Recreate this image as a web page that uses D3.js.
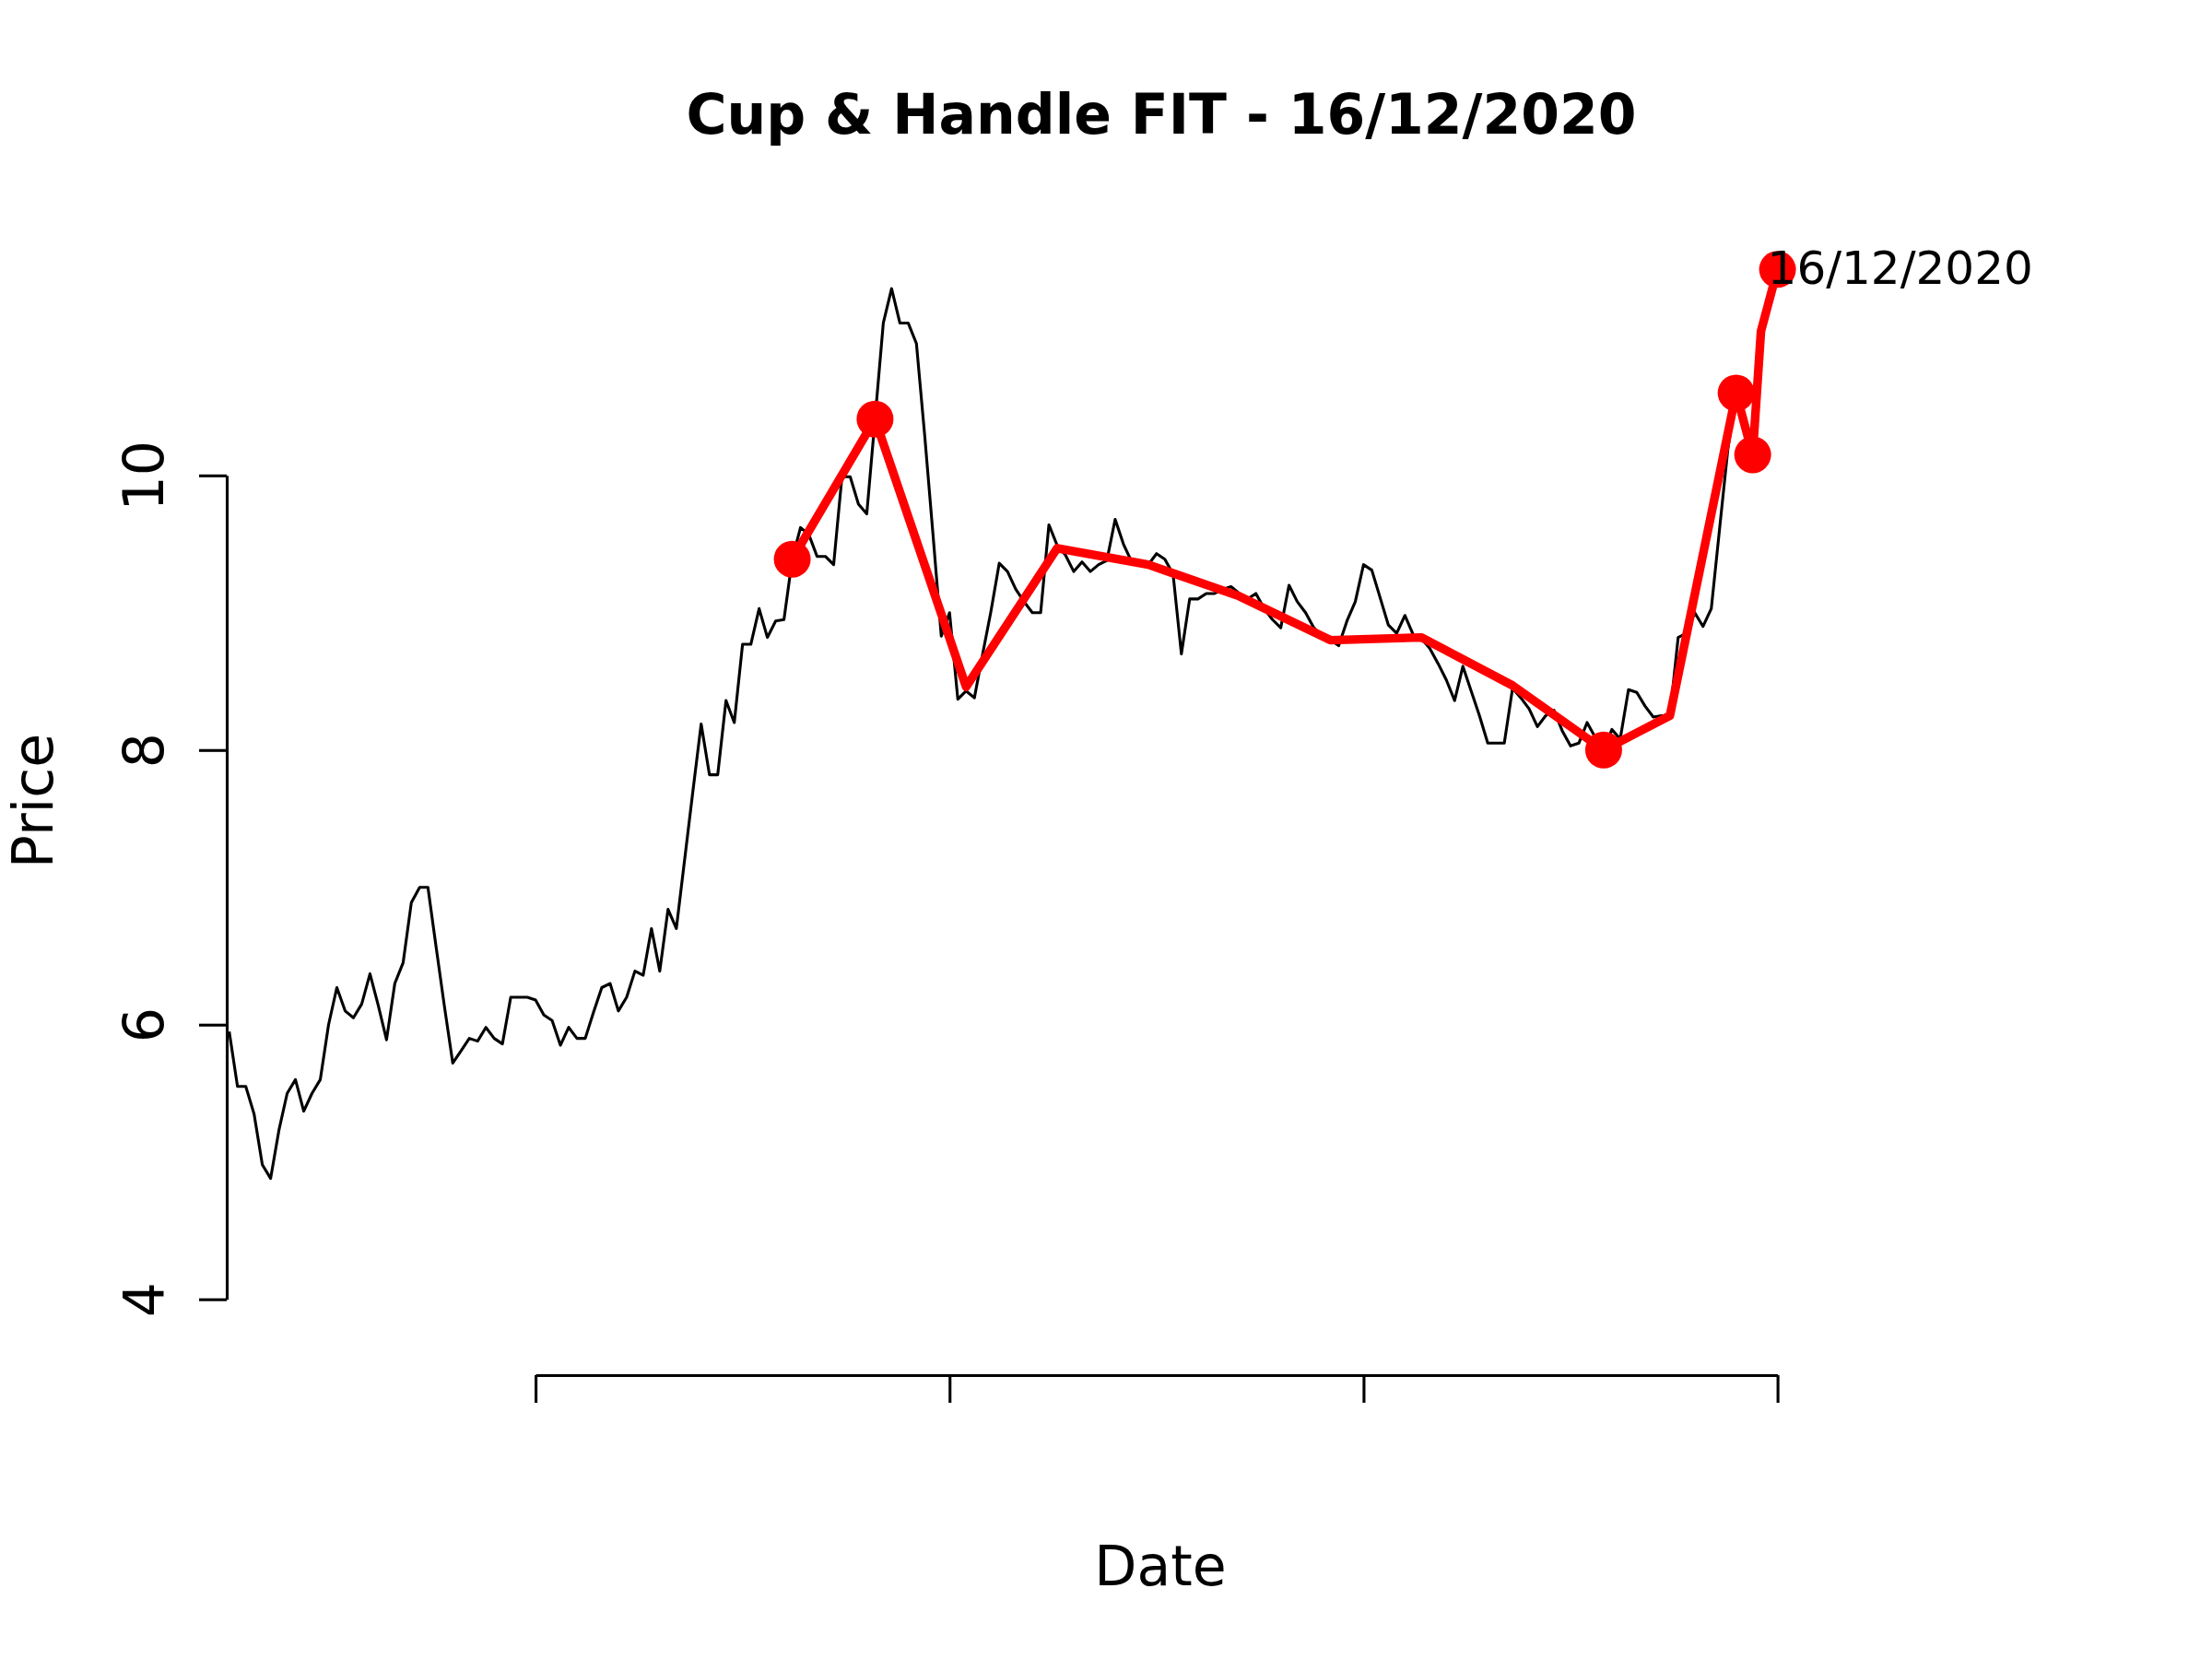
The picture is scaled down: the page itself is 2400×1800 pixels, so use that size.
<!DOCTYPE html>
<html>
<head>
<meta charset="utf-8">
<script src="https://cdn.jsdelivr.net/npm/d3@7/dist/d3.min.js"></script>
<style>
  body { margin: 0; background: #fff; }
</style>
</head>
<body>
<div id="chart"></div>
<script>
  // daily closing price, index 0 = first day on the chart
  const price = [
    5.95, 5.55, 5.55, 5.35, 4.98, 4.88, 5.23, 5.50, 5.60, 5.37,
    5.50, 5.60, 6.00, 6.27, 6.10, 6.05, 6.15, 6.37, 6.14, 5.89,
    6.30, 6.45, 6.89, 7.00, 7.00, 6.56, 6.13, 5.72, 5.81, 5.90,
    5.88, 5.98, 5.90, 5.86, 6.20, 6.20, 6.20, 6.18, 6.07, 6.03,
    5.85, 5.98, 5.90, 5.90, 6.09, 6.27, 6.30, 6.10, 6.20, 6.39,
    6.36, 6.70, 6.39, 6.84, 6.70, 7.20, 7.70, 8.19, 7.82, 7.82,
    8.36, 8.20, 8.77, 8.77, 9.03, 8.82, 8.94, 8.95, 9.39, 9.62,
    9.57, 9.41, 9.41, 9.35, 9.99, 9.99, 9.79, 9.72, 10.41, 11.11,
    11.36, 11.11, 11.11, 10.96, 10.29, 9.57, 8.83, 9.00, 8.37, 8.43,
    8.38, 8.70, 9.01, 9.36, 9.30, 9.17, 9.08, 9.00, 9.00, 9.64,
    9.49, 9.42, 9.30, 9.37, 9.30, 9.35, 9.38, 9.68, 9.50, 9.37,
    9.36, 9.35, 9.43, 9.39, 9.28, 8.70, 9.10, 9.10, 9.14, 9.14,
    9.17, 9.19, 9.14, 9.10, 9.14, 9.03, 8.95, 8.89, 9.20, 9.08,
    9.00, 8.89, 8.83, 8.80, 8.76, 8.94, 9.08, 9.35, 9.31, 9.11,
    8.91, 8.85, 8.98, 8.84, 8.81, 8.74, 8.63, 8.51, 8.36, 8.61,
    8.43, 8.25, 8.05, 8.05, 8.05, 8.45, 8.38, 8.30, 8.17, 8.25,
    8.29, 8.14, 8.03, 8.05, 8.20, 8.09, 8.00, 8.15, 8.08, 8.44,
    8.42, 8.32, 8.24, 8.25, 8.25, 8.82, 8.85, 9.00, 8.90, 9.03,
    9.61, 10.19, 10.60, 10.35, 10.15, 11.05, 11.25, 11.50
  ];

  // fitted cup & handle polyline (day index -> fitted price)
  const fitDay = [68, 78, 89, 100, 111, 122, 133, 144, 155, 166, 174, 182, 184, 185, 187];
  const fitValue = [9.39, 10.41, 8.46, 9.47, 9.35, 9.12, 8.80, 8.82, 8.47, 8.00, 8.25, 10.60, 10.15, 11.05, 11.50];

  // pivots that get a dot
  const pivotDay = [68, 78, 166, 182, 184, 187];

  const yTicks = [4, 6, 8, 10];
  const xTickDays = [37, 87, 137, 187];
  const chartTitle = "Cup & Handle FIT - 16/12/2020";
  const lastDateLabel = "16/12/2020";

  const width = 2400;
  const height = 1800;
  const fontSize = 50;
  const axisFontSize = 60;
  const lineWidth = 3.1;
  const fitColor = "#ff0000";

  let svg = d3.select("#chart")
    .append("svg")
    .attr("width", width)
    .attr("height", height)
    .style("background", "#fff")
    .style("font-family", "'DejaVu Sans', sans-serif");

  let x = d3.scaleLinear()
    .domain([0, price.length - 1])
    .range([248.7, 1928.6]);

  let y = d3.scaleLinear()
    .domain([4, 10])
    .range([1409.7, 515.8]);

  const plotLeft = 246;
  const plotBottom = 1492;

  // y axis, rotated tick labels like base R
  let yAxis = svg.append("g")
    .attr("transform", `translate(${plotLeft},0)`)
    .call(d3.axisLeft(y).tickValues(yTicks).tickFormat(d3.format("d")).tickSize(30).tickSizeOuter(0));

  yAxis.attr("font-size", null).attr("font-family", null);
  yAxis.selectAll("path, line").attr("stroke", "#000").attr("stroke-width", lineWidth);
  yAxis.selectAll("text")
    .attr("x", null)
    .attr("dy", null)
    .attr("fill", "#000")
    .attr("font-size", axisFontSize)
    .attr("text-anchor", "middle")
    .attr("transform", "translate(-69,0) rotate(-90)");

  // x axis: ticks only, no labels, line spans first..last tick
  let xTickScale = x.copy()
    .domain([xTickDays[0], xTickDays[xTickDays.length - 1]])
    .range([x(xTickDays[0]), x(xTickDays[xTickDays.length - 1])]);

  let xAxis = svg.append("g")
    .attr("transform", `translate(0,${plotBottom})`)
    .call(d3.axisBottom(xTickScale).tickValues(xTickDays).tickFormat("").tickSize(30).tickSizeOuter(0));

  xAxis.selectAll("path, line").attr("stroke", "#000").attr("stroke-width", lineWidth);

  // price line
  let priceLine = d3.line()
    .x((d, i) => x(i))
    .y(d => y(d));

  svg.append("path")
    .datum(price)
    .attr("fill", "none")
    .attr("stroke", "#000")
    .attr("stroke-width", lineWidth)
    .attr("stroke-linejoin", "round")
    .attr("d", priceLine);

  // fitted pattern
  let fitLine = d3.line()
    .x(d => x(d))
    .y((d, i) => y(fitValue[i]));

  svg.append("path")
    .datum(fitDay)
    .attr("fill", "none")
    .attr("stroke", fitColor)
    .attr("stroke-width", 9.4)
    .attr("stroke-linejoin", "round")
    .attr("d", fitLine);

  svg.append("g")
    .selectAll("circle")
    .data(pivotDay)
    .enter()
    .append("circle")
      .attr("cx", d => x(d))
      .attr("cy", d => y(fitValue[fitDay.indexOf(d)]))
      .attr("r", 20)
      .attr("fill", fitColor);

  // date label next to the last pivot
  let lastDay = pivotDay[pivotDay.length - 1];
  svg.append("text")
    .attr("x", x(lastDay) - 11)
    .attr("y", y(fitValue[fitDay.indexOf(lastDay)]) + 16)
    .attr("font-size", fontSize)
    .attr("fill", "#000")
    .text(lastDateLabel);

  // title and axis titles
  svg.append("text")
    .attr("x", 1260)
    .attr("y", 145)
    .attr("text-anchor", "middle")
    .attr("font-size", 60)
    .attr("font-weight", "bold")
    .text(chartTitle);

  svg.append("text")
    .attr("x", 1259)
    .attr("y", 1720)
    .attr("text-anchor", "middle")
    .attr("font-size", axisFontSize)
    .text("Date");

  svg.append("text")
    .attr("transform", "translate(57,869) rotate(-90)")
    .attr("text-anchor", "middle")
    .attr("font-size", axisFontSize)
    .text("Price");
</script>
</body>
</html>
